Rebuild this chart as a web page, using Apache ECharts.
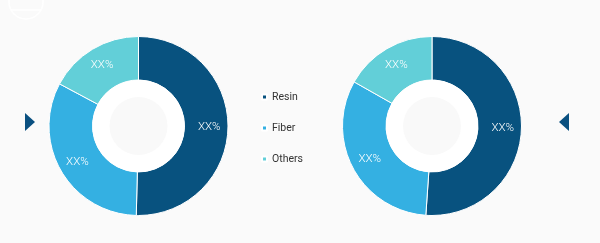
<!DOCTYPE html>
<html>
<head>
<meta charset="utf-8">
<script src="https://cdn.jsdelivr.net/npm/echarts@6/dist/echarts.min.js"></script>
<style>
  html, body { margin: 0; padding: 0; background: #fafafa; }
  #chart { width: 600px; height: 243px; }
</style>
</head>
<body>
<div id="chart"></div>
<script>
// Segment names and shares for the two donuts
const categories = ['Resin', 'Fiber', 'Others'];
const leftValues = [50.4, 32.4, 17.2];
const rightValues = [51.1, 32.1, 16.8];
const sliceLabel = 'XX%';
const colors = ['#08527f', '#34b0e2', '#62cfd8'];

const chart = echarts.init(document.getElementById('chart'), null, { renderer: 'canvas' });

function donut(values, cx) {
  return {
    type: 'pie',
    center: [cx, 126],
    radius: [46, 89.5],
    startAngle: 90,
    clockwise: true,
    silent: true,
    avoidLabelOverlap: false,
    itemStyle: { borderColor: '#ffffff', borderWidth: 1 },
    label: {
      show: true,
      position: 'inside',
      formatter: sliceLabel,
      color: '#ffffff',
      fontSize: 11.5,
      fontWeight: 300,
      fontFamily: 'Roboto, Arial, sans-serif'
    },
    labelLine: { show: false },
    emphasis: { disabled: true },
    data: categories.map((name, i) => ({ name: name, value: values[i] }))
  };
}

function innerDisc(cx) {
  return [
    { type: 'circle', shape: { cx: cx, cy: 126, r: 46 }, style: { fill: '#ffffff' }, silent: true, z: 10 },
    { type: 'circle', shape: { cx: cx, cy: 126, r: 29 }, style: { fill: '#f9f9f9' }, silent: true, z: 11 }
  ];
}

chart.setOption({
  backgroundColor: '#fafafa',
  animation: false,
  color: colors,
  legend: {
    orient: 'vertical',
    left: 256,
    top: 85,
    itemWidth: 5,
    itemHeight: 5,
    itemGap: 17,
    icon: 'rect',
    textStyle: { color: '#333333', fontSize: 10.5, fontFamily: 'Roboto, Arial, sans-serif', lineHeight: 14 },
    data: categories
  },
  graphic: [
    ...innerDisc(138.5),
    ...innerDisc(432),
    // faint globe mark in the corner
    { type: 'circle', shape: { cx: 26, cy: 2, r: 17 }, style: { fill: 'none', stroke: '#ffffff', lineWidth: 1.5 }, silent: true },
    { type: 'line', shape: { x1: 11, y1: 10, x2: 41, y2: 10 }, style: { stroke: '#ffffff', lineWidth: 1.5 }, silent: true },
    // navigation arrows
    { type: 'polygon', shape: { points: [[25, 113], [35, 122], [25, 131]] }, style: { fill: '#0a5080' }, silent: true },
    { type: 'polygon', shape: { points: [[569, 113], [559, 122], [569, 131]] }, style: { fill: '#0a5080' }, silent: true }
  ],
  series: [donut(leftValues, 138.5), donut(rightValues, 432)]
});
</script>
</body>
</html>
